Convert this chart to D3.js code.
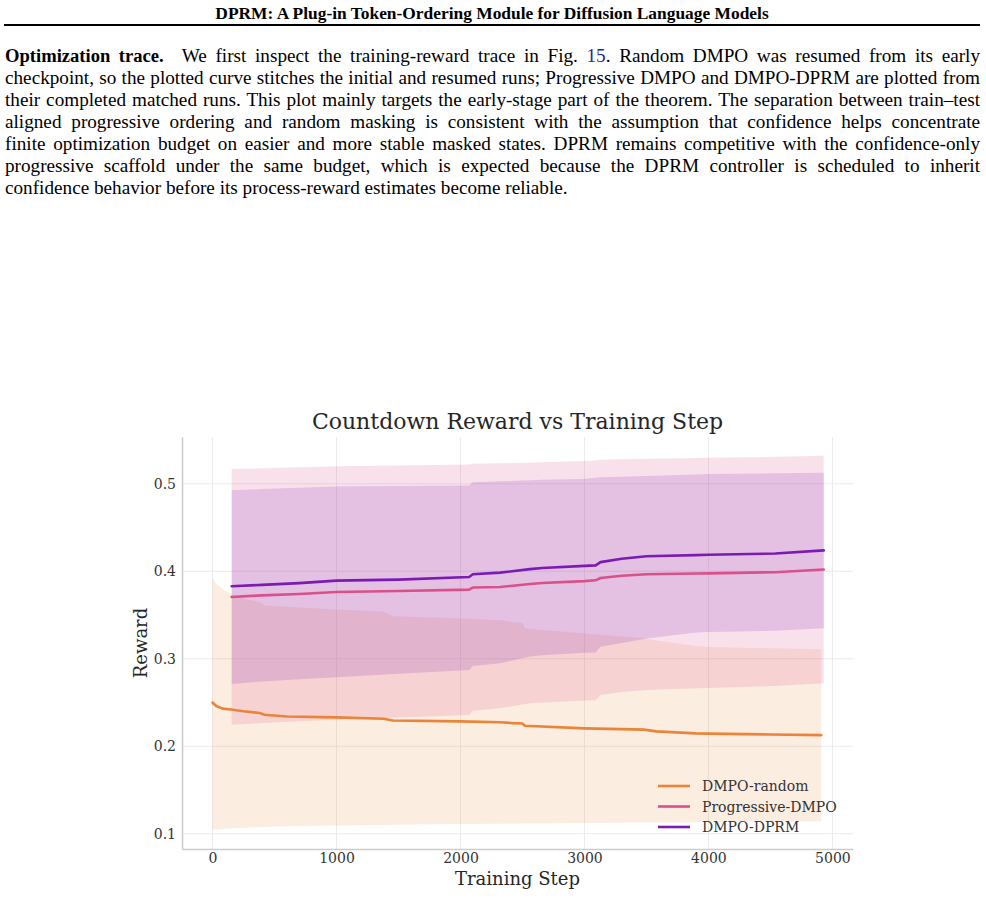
<!DOCTYPE html>
<html lang="en">

<head>
    <meta charset="UTF-8">
    <title>Countdown Reward vs Training Step</title>

    <script src="https://d3js.org/d3.v7.min.js"></script>

    <style>
        body {
            margin: 0;
            width: 986px;
            height: 914px;
            background: #fff;
            position: relative;
            overflow: hidden;
        }

        #header {
            position: absolute;
            top: 3px;
            left: 4px;
            width: 976px;
            text-align: center;
            font-family: "Liberation Serif", serif;
            font-weight: bold;
            font-size: 17.4px;
            color: #000;
        }

        #rule {
            position: absolute;
            top: 24px;
            left: 4px;
            width: 976px;
            height: 2px;
            background: #000;
        }

        #para {
            position: absolute;
            top: 45px;
            left: 5px;
            width: 975px;
            font-family: "Liberation Serif", serif;
            font-size: 19.2px;
            color: #000;
        }

        #para div {
            height: 22px;
            line-height: 22px;
            white-space: nowrap;
            text-align: justify;
            text-align-last: justify;
        }

        #para div.last {
            text-align-last: left;
        }

        #para b {
            font-size: 18.6px;
        }

        .ref {
            color: #1f2a8a;
        }

        svg {
            position: absolute;
            top: 0;
            left: 0;
        }

        .tick text {
            font-family: "DejaVu Serif", serif;
            font-size: 14px;
            fill: #333;
        }
    </style>

</head>

<body>
    <div id="header">DPRM: A Plug-in Token-Ordering Module for Diffusion Language Models</div>
    <div id="rule"></div>

    <div id="para">
        <div><b>Optimization trace.</b><span style="display:inline-block;width:18px"></span>We first inspect the training-reward trace in Fig. <span class="ref">15</span>. Random DMPO was resumed from its early</div>
        <div>checkpoint, so the plotted curve stitches the initial and resumed runs; Progressive DMPO and DMPO-DPRM are plotted from</div>
        <div>their completed matched runs. This plot mainly targets the early-stage part of the theorem. The separation between train–test</div>
        <div>aligned progressive ordering and random masking is consistent with the assumption that confidence helps concentrate</div>
        <div>finite optimization budget on easier and more stable masked states. DPRM remains competitive with the confidence-only</div>
        <div>progressive scaffold under the same budget, which is expected because the DPRM controller is scheduled to inherit</div>
        <div class="last">confidence behavior before its process-reward estimates become reliable.</div>
    </div>

    <svg width="986" height="914"></svg>

    <script>
        // DMPO-random (stitched initial + resumed run)
        const randomSteps = [0, 30, 80, 150, 250, 380, 420, 600, 1000, 1380, 1456, 2000, 2320, 2420, 2500, 2520,
            3000, 3480, 3580, 3900, 4000, 4500, 4910];
        const randomMean = [0.250, 0.246, 0.243, 0.242, 0.240, 0.238, 0.236, 0.234, 0.233, 0.2315, 0.2295, 0.2285,
            0.2275, 0.2265, 0.226, 0.2235, 0.2205, 0.219, 0.217, 0.2148, 0.2145, 0.2135, 0.2128];
        const randomHigh = [0.393, 0.386, 0.380, 0.374, 0.369, 0.365, 0.361, 0.3594, 0.3564, 0.3537, 0.3487, 0.346,
            0.344, 0.342, 0.341, 0.3347, 0.329, 0.3235, 0.321, 0.3145, 0.3135, 0.312, 0.3108];
        const randomLow = [0.1048, 0.105, 0.1055, 0.106, 0.1068, 0.1075, 0.1078, 0.1085, 0.1094, 0.110, 0.1103, 0.1113,
            0.1115, 0.1116, 0.1117, 0.1117, 0.1123, 0.1128, 0.113, 0.1133, 0.1135, 0.114, 0.1143];

        // Progressive-DMPO and DMPO-DPRM share logging steps
        const matchedSteps = [155, 400, 700, 1000, 1500, 2070, 2100, 2320, 2560, 2660, 3000, 3090, 3130, 3300, 3500,
            3900, 4000, 4540, 4930];
        const progMean = [0.3707, 0.3725, 0.374, 0.3764, 0.3775, 0.379, 0.3814, 0.382, 0.3855, 0.3867, 0.3888, 0.3897,
            0.3923, 0.395, 0.3966, 0.3974, 0.3976, 0.399, 0.402];
        const progHigh = [0.517, 0.5178, 0.519, 0.520, 0.521, 0.522, 0.523, 0.5235, 0.524, 0.5245, 0.526, 0.5265,
            0.5275, 0.528, 0.5285, 0.5295, 0.5297, 0.531, 0.532];
        const progLow = [0.2245, 0.2265, 0.2285, 0.2302, 0.233, 0.2359, 0.2405, 0.2435, 0.2492, 0.250, 0.2522, 0.2525,
            0.2587, 0.262, 0.2644, 0.2663, 0.2665, 0.269, 0.272];
        const dprmMean = [0.383, 0.3845, 0.3865, 0.3893, 0.3905, 0.3935, 0.3966, 0.3985, 0.4025, 0.4037, 0.4062, 0.4068,
            0.4105, 0.4144, 0.4172, 0.4185, 0.419, 0.4203, 0.4239];
        const dprmHigh = [0.4926, 0.494, 0.4955, 0.4969, 0.4975, 0.498, 0.5017, 0.503, 0.504, 0.5045, 0.5056, 0.507,
            0.5075, 0.508, 0.509, 0.5105, 0.5113, 0.512, 0.5125];
        const dprmLow = [0.2712, 0.274, 0.2765, 0.2788, 0.283, 0.2872, 0.2917, 0.2948, 0.3026, 0.304, 0.307, 0.3072,
            0.3137, 0.318, 0.3233, 0.330, 0.3305, 0.332, 0.335];

        const seriesNames = ["DMPO-random", "Progressive-DMPO", "DMPO-DPRM"];
        const seriesColors = ["#ea8438", "#d9508a", "#7a1bb5"];
        const bandAlpha = [0.15, 0.17, 0.17];
        const xTicks = [0, 1000, 2000, 3000, 4000, 5000];
        const yTicks = [0.1, 0.2, 0.3, 0.4, 0.5];

        const series = [
            { steps: randomSteps, mean: randomMean, lo: randomLow, hi: randomHigh },
            { steps: matchedSteps, mean: progMean, lo: progLow, hi: progHigh },
            { steps: matchedSteps, mean: dprmMean, lo: dprmLow, hi: dprmHigh }
        ];

        const svg = d3.select("svg");
        const plotLeft = 182, plotRight = 853, plotTop = 437, plotBottom = 849;

        const x = d3.scaleLinear().domain([-246, 5166]).range([plotLeft, plotRight]);
        const y = d3.scaleLinear().domain([0.0826, 0.5535]).range([plotBottom, plotTop]);

        // grid
        svg.append("g")
            .selectAll("line")
            .data(xTicks)
            .join("line")
            .attr("x1", d => x(d)).attr("x2", d => x(d))
            .attr("y1", plotTop).attr("y2", plotBottom)
            .attr("stroke", "#ebebeb").attr("stroke-width", 1);
        svg.append("g")
            .selectAll("line")
            .data(yTicks)
            .join("line")
            .attr("x1", plotLeft).attr("x2", plotRight)
            .attr("y1", d => y(d)).attr("y2", d => y(d))
            .attr("stroke", "#ebebeb").attr("stroke-width", 1);

        // bands
        series.forEach(function (s, i) {
            const pts = s.steps.map((st, k) => ({ x: st, lo: s.lo[k], hi: s.hi[k] }));
            const area = d3.area()
                .x(d => x(d.x))
                .y0(d => y(d.lo))
                .y1(d => y(d.hi));
            svg.append("path")
                .attr("d", area(pts))
                .attr("fill", seriesColors[i])
                .attr("fill-opacity", bandAlpha[i]);
        });

        // mean lines
        series.forEach(function (s, i) {
            const pts = s.steps.map((st, k) => [st, s.mean[k]]);
            const line = d3.line()
                .x(d => x(d[0]))
                .y(d => y(d[1]));
            svg.append("path")
                .attr("d", line(pts))
                .attr("fill", "none")
                .attr("stroke", seriesColors[i])
                .attr("stroke-width", 2.6)
                .attr("stroke-linejoin", "round")
                .attr("stroke-linecap", "round");
        });

        // axes
        const xAxis = svg.append("g")
            .attr("transform", "translate(0," + plotBottom + ")")
            .call(d3.axisBottom(x).tickValues(xTicks).tickSize(0).tickPadding(4).tickFormat(d3.format("d")));
        xAxis.select(".domain").attr("stroke", "#cccccc").attr("stroke-width", 1.6);

        const yAxis = svg.append("g")
            .attr("transform", "translate(" + plotLeft + ",0)")
            .call(d3.axisLeft(y).tickValues(yTicks).tickSize(0).tickPadding(6).tickFormat(d3.format(".1f")));
        yAxis.select(".domain").attr("stroke", "#cccccc").attr("stroke-width", 1.6);

        // titles
        svg.append("text")
            .attr("x", (plotLeft + plotRight) / 2).attr("y", 429)
            .attr("text-anchor", "middle")
            .attr("font-family", "DejaVu Serif, serif")
            .attr("font-size", 22)
            .attr("fill", "#262626")
            .text("Countdown Reward vs Training Step");

        svg.append("text")
            .attr("x", (plotLeft + plotRight) / 2).attr("y", 885)
            .attr("text-anchor", "middle")
            .attr("font-family", "DejaVu Serif, serif")
            .attr("font-size", 18)
            .attr("fill", "#262626")
            .text("Training Step");

        svg.append("text")
            .attr("transform", "translate(147," + ((plotTop + plotBottom) / 2) + ") rotate(-90)")
            .attr("text-anchor", "middle")
            .attr("font-family", "DejaVu Serif, serif")
            .attr("font-size", 18)
            .attr("fill", "#262626")
            .text("Reward");

        // legend
        const legend = svg.append("g").attr("transform", "translate(658,786)");
        seriesNames.forEach(function (name, i) {
            const row = legend.append("g").attr("transform", "translate(0," + (i * 20.5) + ")");
            row.append("line")
                .attr("x1", 0).attr("x2", 32)
                .attr("stroke", seriesColors[i])
                .attr("stroke-width", 2.6);
            row.append("text")
                .attr("x", 44).attr("y", 5)
                .attr("font-family", "DejaVu Serif, serif")
                .attr("font-size", 14)
                .attr("fill", "#333")
                .text(name);
        });
    </script>
</body>

</html>
